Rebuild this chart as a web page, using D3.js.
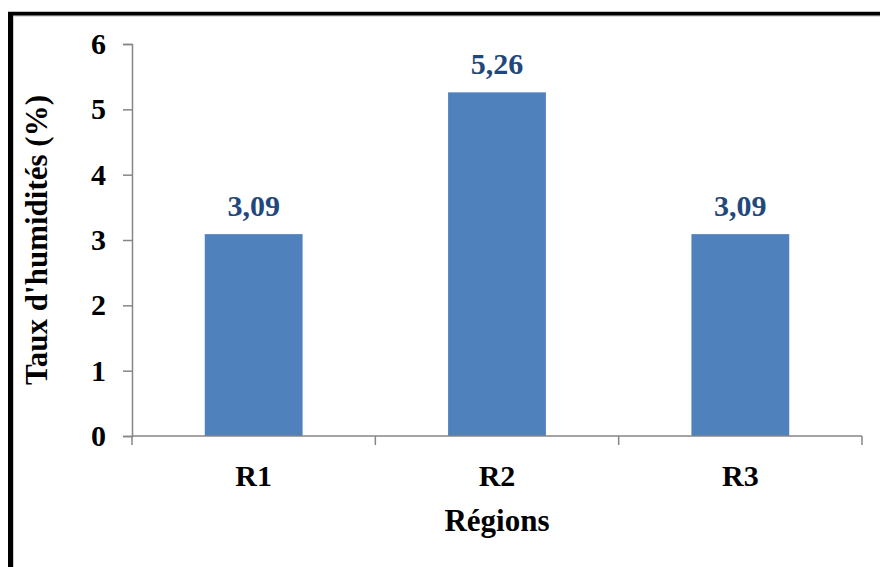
<!DOCTYPE html>
<html>
<head>
<meta charset="utf-8">
<script src="https://cdn.jsdelivr.net/npm/d3@7"></script>
<style>
  html, body { margin: 0; padding: 0; background: #fff; }
  svg { display: block; }
</style>
</head>
<body>
<svg id="chart" width="880" height="567"></svg>
<script>
// Moisture rate per region
const regions = ["R1", "R2", "R3"];
const humidity = [3.09, 5.26, 3.09];
const yTicks = [0, 1, 2, 3, 4, 5, 6];

const FONT = "'Liberation Serif', 'Times New Roman', serif";
const svg = d3.select("#chart");
const W = 880, H = 567;
const plotLeft = 132, plotRight = 862, plotTop = 44, plotBottom = 436;

// outer frame (runs off the right and bottom edges)
svg.append("line").attr("x1", 8).attr("x2", W + 10).attr("y1", 13.7).attr("y2", 13.7)
  .attr("stroke", "#000").attr("stroke-width", 4);
svg.append("line").attr("x1", 10.6).attr("x2", 10.6).attr("y1", 12).attr("y2", H + 10)
  .attr("stroke", "#000").attr("stroke-width", 5.2);
svg.append("line").attr("x1", 13).attr("x2", W + 10).attr("y1", 16.2).attr("y2", 16.2)
  .attr("stroke", "#d0d0d0").attr("stroke-width", 1);

const x = d3.scaleBand().domain(regions).range([plotLeft, plotRight]).paddingInner(0).paddingOuter(0);
const y = d3.scaleLinear().domain([0, 6]).range([plotBottom, plotTop]);
const barW = x.bandwidth() * 0.402;

const axisColor = "#868686";

// bars
svg.selectAll("rect.bar").data(regions).join("rect")
  .attr("class", "bar")
  .attr("x", d => x(d) + (x.bandwidth() - barW) / 2)
  .attr("width", barW)
  .attr("y", (d, i) => y(humidity[i]))
  .attr("height", (d, i) => y(0) - y(humidity[i]))
  .attr("fill", "#4F81BD");

// y axis
const yAxis = svg.append("g").attr("transform", `translate(${plotLeft},0)`)
  .call(d3.axisLeft(y).tickValues(yTicks).tickSize(9).tickPadding(17).tickFormat(d3.format("d")));
yAxis.select(".domain").attr("stroke", axisColor).attr("stroke-width", 1.5);
yAxis.selectAll(".tick line").attr("stroke", axisColor).attr("stroke-width", 1.5);
yAxis.selectAll(".tick text").attr("fill", "#000")
  .style("font-family", FONT).style("font-weight", "bold").style("font-size", "30px");

// x axis with category boundary ticks
const xAxisG = svg.append("g").attr("transform", `translate(0,${plotBottom})`);
xAxisG.append("line").attr("x1", plotLeft).attr("x2", plotRight).attr("y1", 0).attr("y2", 0)
  .attr("stroke", axisColor).attr("stroke-width", 1.5);
const bounds = regions.map(r => x(r)).concat([plotRight]);
xAxisG.selectAll("line.tk").data(bounds).join("line").attr("class", "tk")
  .attr("x1", d => d).attr("x2", d => d).attr("y1", 0).attr("y2", 9)
  .attr("stroke", axisColor).attr("stroke-width", 1.5);
xAxisG.selectAll("text.cat").data(regions).join("text").attr("class", "cat")
  .attr("x", d => x(d) + x.bandwidth() / 2).attr("y", 50)
  .attr("text-anchor", "middle").attr("fill", "#000")
  .style("font-family", FONT).style("font-weight", "bold").style("font-size", "30px")
  .text(d => d);

// value labels
svg.selectAll("text.val").data(regions).join("text").attr("class", "val")
  .attr("x", d => x(d) + x.bandwidth() / 2)
  .attr("y", (d, i) => y(humidity[i]) - 18.5)
  .attr("text-anchor", "middle").attr("fill", "#1F497D")
  .style("font-family", FONT).style("font-weight", "bold").style("font-size", "30px")
  .text((d, i) => d3.format(".2f")(humidity[i]).replace(".", ","));

// axis titles
svg.append("text").attr("x", (plotLeft + plotRight) / 2).attr("y", 531)
  .attr("text-anchor", "middle").attr("fill", "#000")
  .style("font-family", FONT).style("font-weight", "bold").style("font-size", "31px")
  .text("Régions");

svg.append("text")
  .attr("transform", `translate(47,${(plotTop + plotBottom) / 2}) rotate(-90)`)
  .attr("text-anchor", "middle").attr("fill", "#000")
  .style("font-family", FONT).style("font-weight", "bold").style("font-size", "31px")
  .text("Taux d'humidités (%)");
</script>
</body>
</html>
